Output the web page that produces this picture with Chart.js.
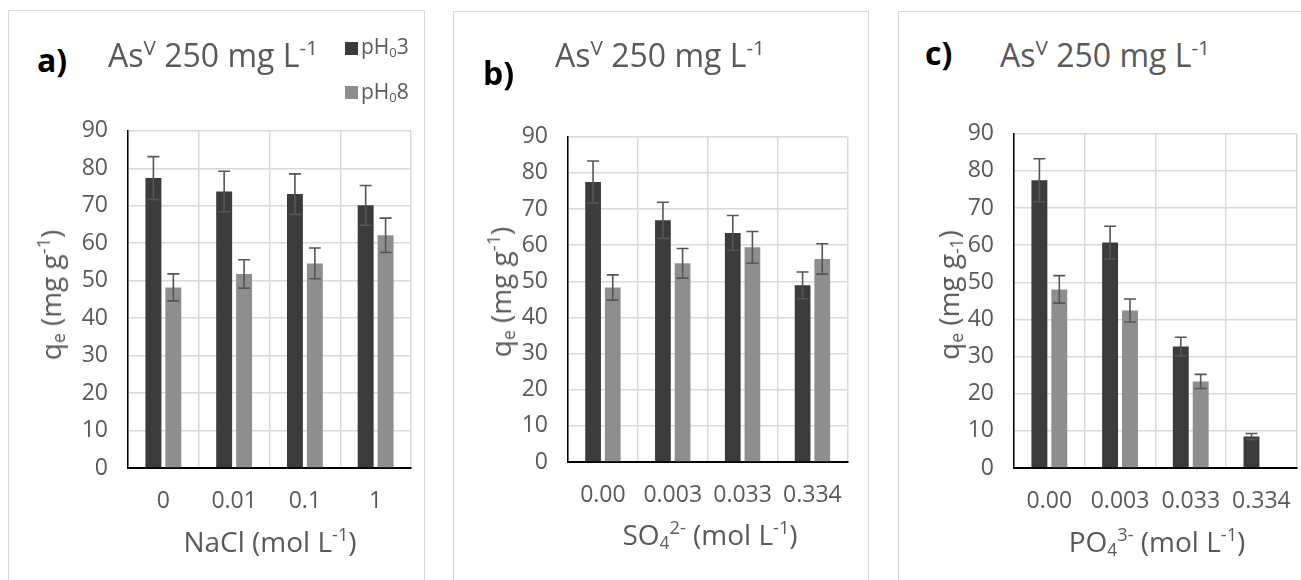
<!DOCTYPE html>
<html>
<head>
<meta charset="utf-8">
<script src="https://cdn.jsdelivr.net/npm/chart.js@4.4.1/dist/chart.umd.min.js"></script>
<style>
  html, body { margin: 0; padding: 0; background: #fff; overflow: hidden; }
  body { width: 1301px; height: 580px; position: relative; font-family: "Open Sans", sans-serif; color: #595959; }
  .frame { position: absolute; border: 1.5px solid #d9d9d9; border-bottom: none; height: 620px; }
  canvas { position: absolute; }
  .txt { position: absolute; line-height: 1; white-space: nowrap; }
  .title { font-size: 32px; }
  .tag { font-size: 32px; font-weight: bold; color: #000; }
  .axt { font-size: 28px; }
  .rot { transform: translate(-50%, -50%) rotate(-90deg); }
  .ctr { transform: translateX(-50%); }
  sup { font-size: 0.65em; vertical-align: 0.6em; line-height: 0; }
  sub { font-size: 0.62em; vertical-align: -0.22em; line-height: 0; }
  .leg { position: absolute; width: 13px; height: 13px; }
  .legt { font-size: 21px; }
</style>
</head>
<body>

<!-- panel frames -->
<div class="frame" style="left:8px; top:10px; width:415px;"></div>
<div class="frame" style="left:453px; top:11px; width:414px;"></div>
<div class="frame" style="left:898px; top:11px; width:440px;"></div>

<canvas id="chartA"></canvas>
<canvas id="chartB"></canvas>
<canvas id="chartC"></canvas>

<!-- panel a -->
<div class="txt tag" style="left:37px; top:44px;">a)</div>
<div class="txt title" style="left:108px; top:39px;">As<sup>V</sup> 250 mg L<sup>-1</sup></div>
<div class="leg" style="left:345px; top:42px; background:#3b3b3b;"></div>
<div class="txt legt" style="left:361px; top:36px;">pH<sub>0</sub>3</div>
<div class="leg" style="left:345px; top:86px; background:#8e8e8e;"></div>
<div class="txt legt" style="left:361px; top:81px;">pH<sub>0</sub>8</div>
<div class="txt axt ctr" style="left:270px; top:527px;">NaCl (mol L<sup>-1</sup>)</div>
<div class="txt axt rot" style="left:50px; top:295px;">q<sub>e</sub> (mg g<sup>-1</sup>)</div>

<!-- panel b -->
<div class="txt tag" style="left:483px; top:57px;">b)</div>
<div class="txt title" style="left:555px; top:39px;">As<sup>V</sup> 250 mg L<sup>-1</sup></div>
<div class="txt axt ctr" style="left:710px; top:520px;">SO<sub>4</sub><sup>2-</sup> (mol L<sup>-1</sup>)</div>
<div class="txt axt rot" style="left:500px; top:292px;">q<sub>e</sub> (mg g<sup>-1</sup>)</div>

<!-- panel c -->
<div class="txt tag" style="left:925px; top:37px;">c)</div>
<div class="txt title" style="left:1000px; top:39px;">As<sup>V</sup> 250 mg L<sup>-1</sup></div>
<div class="txt axt ctr" style="left:1157px; top:527px;">PO<sub>4</sub><sup>3-</sup> (mol L<sup>-1</sup>)</div>
<div class="txt axt rot" style="left:948px; top:295px;">q<sub>e</sub> (mg g<sub>-1</sub>)</div>

<script>
// ---- data ----
const naclLabels = ['0', '0.01', '0.1', '1'];
const anionLabels = ['0.00', '0.003', '0.033', '0.334'];
const yTicks = [0, 10, 20, 30, 40, 50, 60, 70, 80, 90];

// a) NaCl
const nacl_pH3 = [77.4, 73.8, 73.1, 70.1];
const nacl_pH3_err = [5.7, 5.4, 5.4, 5.3];
const nacl_pH8 = [48.2, 51.8, 54.6, 62.1];
const nacl_pH8_err = [3.6, 3.8, 4.1, 4.6];

// b) SO4
const so4_pH3 = [77.5, 66.9, 63.4, 48.9];
const so4_pH3_err = [5.8, 5.0, 4.8, 3.7];
const so4_pH8 = [48.3, 55.0, 59.4, 56.2];
const so4_pH8_err = [3.5, 4.1, 4.4, 4.2];

// c) PO4
const po4_pH3 = [77.5, 60.7, 32.7, 8.5];
const po4_pH3_err = [5.8, 4.4, 2.5, 0.8];
const po4_pH8 = [48.1, 42.4, 23.3, 0.2];
const po4_pH8_err = [3.7, 3.1, 1.9, 0];

const DARK = '#3b3b3b';
const GREY = '#8e8e8e';
const TEXT = '#595959';
const GRID = '#d9d9d9';

// error bars drawn through the y scale
const errorBars = {
  id: 'errorBars',
  afterDatasetsDraw(chart) {
    const ctx = chart.ctx;
    const y = chart.scales.y;
    ctx.save();
    ctx.strokeStyle = '#555555';
    ctx.lineWidth = 1.6;
    chart.data.datasets.forEach((ds, i) => {
      const meta = chart.getDatasetMeta(i);
      meta.data.forEach((bar, j) => {
        const e = ds.errors[j];
        if (!e) return;
        const v = ds.data[j];
        const top = y.getPixelForValue(v + e);
        const bot = y.getPixelForValue(v - e);
        const x = bar.x;
        ctx.beginPath();
        ctx.moveTo(x, top); ctx.lineTo(x, bot);
        ctx.moveTo(x - 6, top); ctx.lineTo(x + 6, top);
        ctx.moveTo(x - 6, bot); ctx.lineTo(x + 6, bot);
        ctx.stroke();
      });
    });
    ctx.restore();
  }
};

const YW = 80, XH = 60, PT = 20, PR = 10;

function makeChart(id, labels, s3, e3, s8, e8, area) {
  const [pl, pt, pr, pb] = area;
  const cv = document.getElementById(id);
  const w = pr - pl + YW + PR;
  const h = pb - pt + PT + XH;
  cv.width = w; cv.height = h;
  cv.style.left = (pl - YW) + 'px';
  cv.style.top = (pt - PT) + 'px';
  cv.style.width = w + 'px';
  cv.style.height = h + 'px';

  return new Chart(cv, {
    type: 'bar',
    data: {
      labels,
      datasets: [
        { label: 'pH03', data: s3, errors: e3, backgroundColor: DARK },
        { label: 'pH08', data: s8, errors: e8, backgroundColor: GREY },
      ]
    },
    options: {
      responsive: false,
      animation: false,
      layout: { padding: { top: PT, right: PR, left: 0, bottom: 0 } },
      datasets: { bar: { barPercentage: 0.8, categoryPercentage: 0.563 } },
      plugins: { legend: { display: false }, tooltip: { enabled: false } },
      scales: {
        x: {
          grid: { color: GRID, lineWidth: 1.5, drawTicks: false },
          border: { color: '#000', width: 2 },
          ticks: { color: TEXT, font: { family: 'Open Sans', size: 23 }, padding: 20 },
          afterFit: s => { s.height = XH; }
        },
        y: {
          min: 0, max: 90,
          afterBuildTicks: s => { s.ticks = yTicks.map(v => ({ value: v })); },
          grid: { color: GRID, lineWidth: 1.5, drawTicks: false },
          border: { color: '#000', width: 1.5 },
          ticks: { color: TEXT, font: { family: 'Open Sans', size: 23 }, padding: 20 },
          afterFit: s => { s.width = YW; }
        }
      }
    },
    plugins: [errorBars]
  });
}

makeChart('chartA', naclLabels, nacl_pH3, nacl_pH3_err, nacl_pH8, nacl_pH8_err, [128, 117, 411, 468]);
makeChart('chartB', anionLabels, so4_pH3, so4_pH3_err, so4_pH8, so4_pH8_err, [568, 123, 853, 462]);
makeChart('chartC', anionLabels, po4_pH3, po4_pH3_err, po4_pH8, po4_pH8_err, [1014, 120, 1302, 468]);
</script>
</body>
</html>
